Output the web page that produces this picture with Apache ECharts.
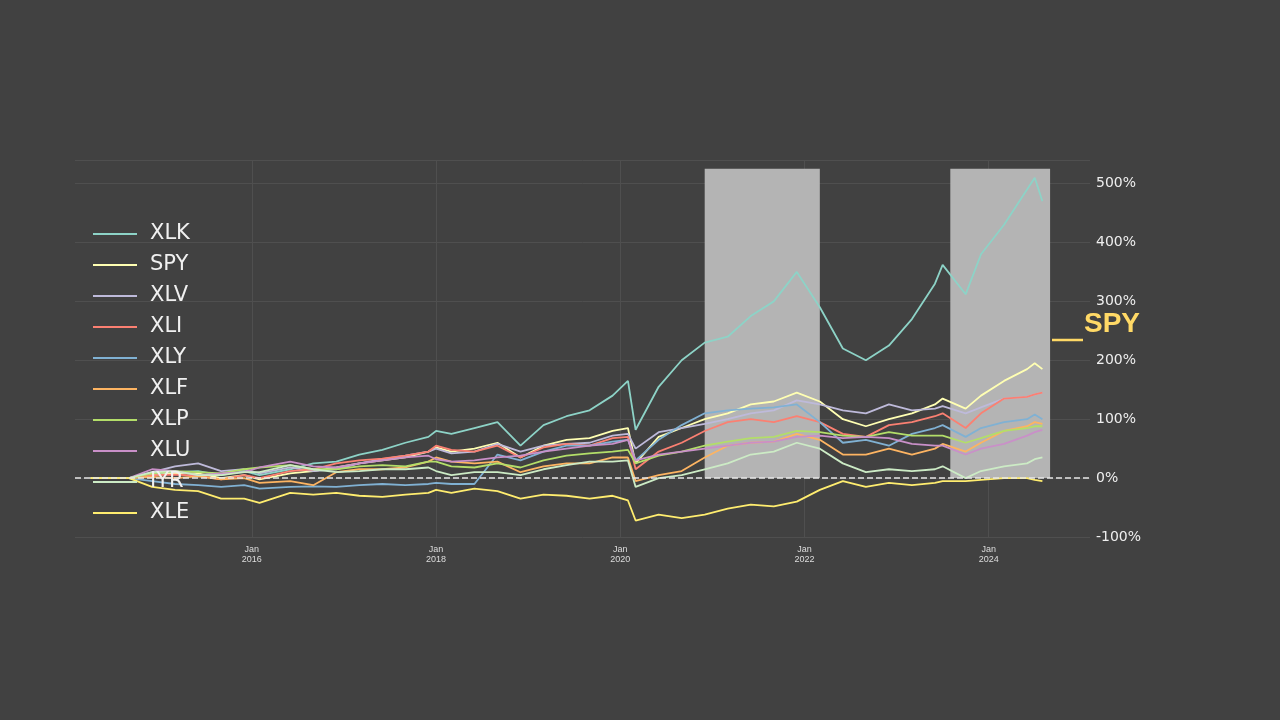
<!DOCTYPE html>
<html><head><meta charset="utf-8">
<script src="https://cdn.jsdelivr.net/npm/echarts@6/dist/echarts.min.js"></script>
<style>html,body{margin:0;background:#414141}#chart{width:1280px;height:720px}</style>
</head><body><div id="chart"></div>
<script>
var dates = ['2014-04','2014-09','2014-12','2015-03','2015-06','2015-09','2015-12','2016-02','2016-06','2016-09','2016-12',
  '2017-03','2017-06','2017-09','2017-12','2018-01','2018-03','2018-06','2018-09','2018-12','2019-03','2019-06','2019-09',
  '2019-12','2020-02','2020-03','2020-06','2020-09','2020-12','2021-03','2021-06','2021-09','2021-12','2022-03','2022-06',
  '2022-09','2022-12','2023-03','2023-06','2023-07','2023-10','2023-12','2024-03','2024-06','2024-07','2024-08'];

var names = ['XLK','SPY','XLV','XLI','XLY','XLF','XLP','XLU','IYR','XLE'];
var colors = ['#8dd3c7','#ffffb3','#bebada','#fb8072','#80b1d3','#fdb462','#b3de69','#c990c8','#ccebc5','#ffed6f'];

var XLK = [0,0,8,10,12,5,12,5,15,25,28,40,48,60,70,80,75,85,95,55,90,105,115,140,165,82,155,200,230,240,275,300,350,290,220,200,225,270,330,362,312,380,430,490,510,470];
var SPY = [0,0,5,8,8,0,5,-2,8,12,18,25,30,35,45,52,45,50,60,35,55,65,68,80,85,25,70,85,100,110,125,130,145,130,100,88,100,110,125,135,118,140,165,185,195,185];
var XLV = [0,0,10,20,25,12,15,8,18,12,15,25,32,38,45,50,42,45,58,45,55,58,60,72,75,50,78,85,92,100,110,115,132,125,115,110,125,115,118,122,110,120,135,138,142,145];
var XLI = [0,0,5,6,4,-2,5,0,12,15,25,30,33,38,45,55,48,45,55,35,52,58,55,68,70,15,45,60,80,95,100,95,105,95,75,70,90,95,105,110,85,110,135,138,142,145];
var XLY = [0,0,-5,-10,-12,-15,-12,-18,-15,-14,-15,-12,-10,-12,-10,-8,-10,-10,40,30,45,55,55,62,65,30,65,90,110,115,118,120,125,95,60,65,55,75,85,90,70,85,95,100,108,100];
var XLF = [0,0,2,0,3,-2,0,-8,-5,-12,10,15,15,18,28,35,28,25,28,10,20,25,25,35,35,-5,5,12,35,55,60,62,75,65,40,40,50,40,50,58,45,60,80,88,95,92];
var XLP = [0,0,8,12,10,8,15,18,22,15,15,20,22,20,28,28,20,18,25,18,30,38,42,45,48,25,38,45,55,62,68,70,80,78,72,70,78,72,72,72,60,68,80,85,88,88];
var XLU = [0,0,15,12,5,8,10,18,28,20,18,25,30,35,38,32,28,30,35,38,45,50,55,58,65,30,40,45,50,55,60,62,70,72,68,70,68,58,55,55,40,50,58,72,78,82];
var IYR = [0,0,10,12,5,5,10,10,22,15,10,12,15,15,18,12,5,10,10,5,15,22,28,28,30,-15,0,5,15,25,40,45,60,50,25,10,15,12,15,20,0,12,20,25,32,35];
var XLE = [0,0,-15,-20,-22,-35,-35,-42,-25,-28,-25,-30,-32,-28,-25,-20,-25,-18,-22,-35,-28,-30,-35,-30,-38,-72,-62,-68,-62,-52,-45,-48,-40,-20,-5,-15,-8,-12,-8,-5,-5,-3,0,0,-3,-5];
var allData = [XLK,SPY,XLV,XLI,XLY,XLF,XLP,XLU,IYR,XLE];

var shaded = [['2020-12','2022-03'],['2023-08','2024-09']];
var tickYears = [2016,2018,2020,2022,2024];

function yr(s){ var p = s.split('-'); return +p[0] + (+p[1]-1)/12; }

var series = names.map(function(n,i){
  return {
    name:n, type:'line', showSymbol:false, lineStyle:{width:1.8, color:colors[i]}, itemStyle:{color:colors[i]},
    z:3, data: dates.map(function(d,j){ return [yr(d), allData[i][j]]; })
  };
});
series.push({
  type:'line', data:[], z:1, silent:true,
  markArea:{silent:true, itemStyle:{color:'#b4b4b4'},
    data: shaded.map(function(s){ return [{xAxis:yr(s[0]), yAxis:0},{xAxis:yr(s[1]), yAxis:525}]; })},
  markLine:{silent:true, symbol:'none', label:{show:false}, lineStyle:{color:'#e6e6e6', type:'dashed', width:1.5},
    data:[{yAxis:0}]}
});

var chart = echarts.init(document.getElementById('chart'));
chart.setOption({
  backgroundColor:'#414141',
  animation:false,
  grid:{left:75, right:190, top:160, bottom:183},
  legend:{
    orient:'vertical', left:88, top:218, itemGap:9, itemWidth:44, itemHeight:2, icon:'rect',
    data:names, textStyle:{color:'#f0f0f0', fontSize:21, lineHeight:22, fontFamily:'DejaVu Sans', padding:[0,0,0,8]}
  },
  xAxis:{
    type:'value', min:2014.08, max:2025.1,
    axisLine:{show:false}, axisTick:{show:false, customValues:tickYears},
    splitLine:{show:true, lineStyle:{color:'#4f4f4f'}},
    axisLabel:{customValues:tickYears, color:'#dddddd', fontSize:9, lineHeight:10,
      formatter:function(v){ return 'Jan\n' + Math.round(v); }}
  },
  yAxis:{
    type:'value', position:'right', min:-100, max:540, interval:100,
    axisLine:{show:false}, axisTick:{show:false},
    splitLine:{lineStyle:{color:'#4f4f4f'}},
    axisLabel:{color:'#eeeeee', fontSize:14, fontFamily:'DejaVu Sans', margin:6, showMaxLabel:false,
      formatter:function(v){ return v > 500 ? '' : v + '%'; }}
  },
  graphic:[
    {type:'line', shape:{x1:1052, y1:340, x2:1083, y2:340}, style:{stroke:'#ffd966', lineWidth:2.5}},
    {type:'text', left:1084, top:310, style:{text:'SPY', fill:'#ffd966', font:'bold 28px Liberation Sans'}}
  ],
  series:series
});
</script></body></html>
